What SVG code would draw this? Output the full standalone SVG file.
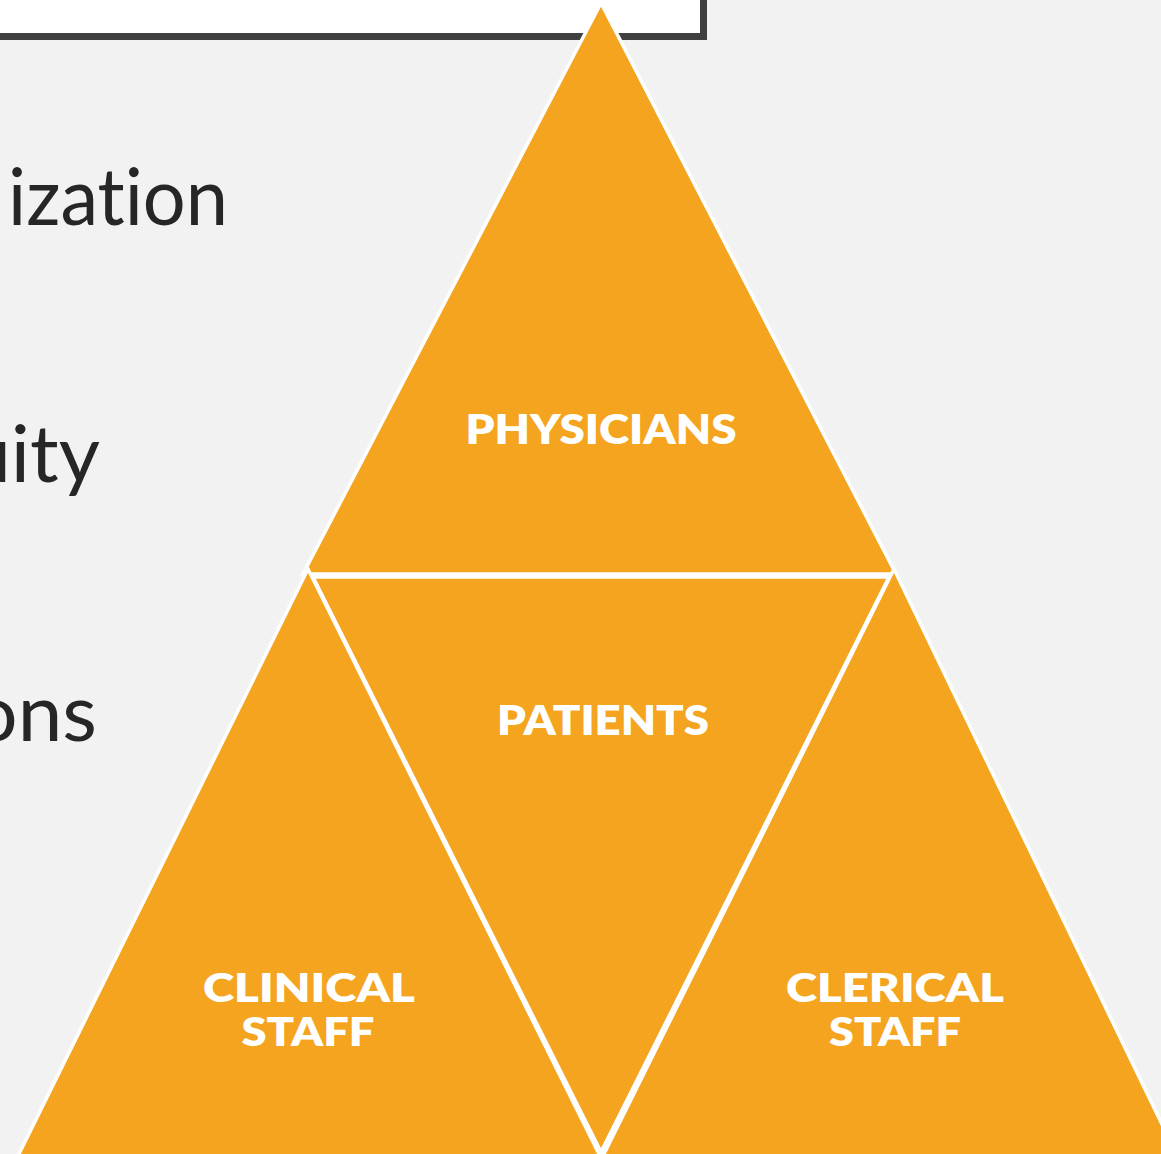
<svg xmlns="http://www.w3.org/2000/svg" width="1161" height="1154" viewBox="0 0 1161 1154">
  <style>
    .tri { fill: #F5A41F; stroke: #FFFFFF; stroke-width: 3.5; stroke-linejoin: miter; }
    .body { font-family: "Lato", "Open Sans", "Liberation Sans", sans-serif; font-size: 80px; fill: #262626; font-variant-ligatures: none; }
    .lbl { font-family: "Lato", "Open Sans", "Liberation Sans", sans-serif; font-weight: 800; font-size: 41px; fill: #FFFFFF; text-anchor: middle; }
    .lbl2 { font-family: "Lato", "Open Sans", "Liberation Sans", sans-serif; font-weight: 800; font-size: 39px; fill: #FFFFFF; text-anchor: middle; }
  </style>
  <rect x="0" y="0" width="1161" height="1154" fill="#F2F2F2"/>
  <g id="title-box">
    <rect x="-10" y="-10" width="713.5" height="46.5" fill="#FFFFFF" stroke="#404040" stroke-width="7"/>
  </g>
  <g id="bullets">
    <text class="body" x="8" y="225" textLength="220" lengthAdjust="spacingAndGlyphs">ization</text>
    <text class="body" x="100" y="482" text-anchor="end">uity</text>
    <text class="body" x="97" y="741" text-anchor="end">ons</text>
  </g>
  <g id="node-physicians">
    <polygon class="tri" points="601,3 303,574 896,574"/>
    <text class="lbl" x="601" y="444" textLength="271" lengthAdjust="spacingAndGlyphs">PHYSICIANS</text>
  </g>
  <g id="node-patients">
    <polygon class="tri" points="313,577 889,577 601,1152"/>
    <text class="lbl" x="603" y="735" textLength="212" lengthAdjust="spacingAndGlyphs">PATIENTS</text>
  </g>
  <g id="node-clinical-staff">
    <polygon class="tri" points="308,569 600,1156 14,1164"/>
    <text class="lbl2" x="309" y="1002" textLength="212" lengthAdjust="spacingAndGlyphs">CLINICAL</text>
    <text class="lbl2" x="308" y="1046" textLength="133" lengthAdjust="spacingAndGlyphs">STAFF</text>
  </g>
  <g id="node-clerical-staff">
    <polygon class="tri" points="894,569 1184,1170 602,1158"/>
    <text class="lbl2" x="895" y="1002" textLength="218" lengthAdjust="spacingAndGlyphs">CLERICAL</text>
    <text class="lbl2" x="895" y="1046" textLength="132" lengthAdjust="spacingAndGlyphs">STAFF</text>
  </g>
</svg>
